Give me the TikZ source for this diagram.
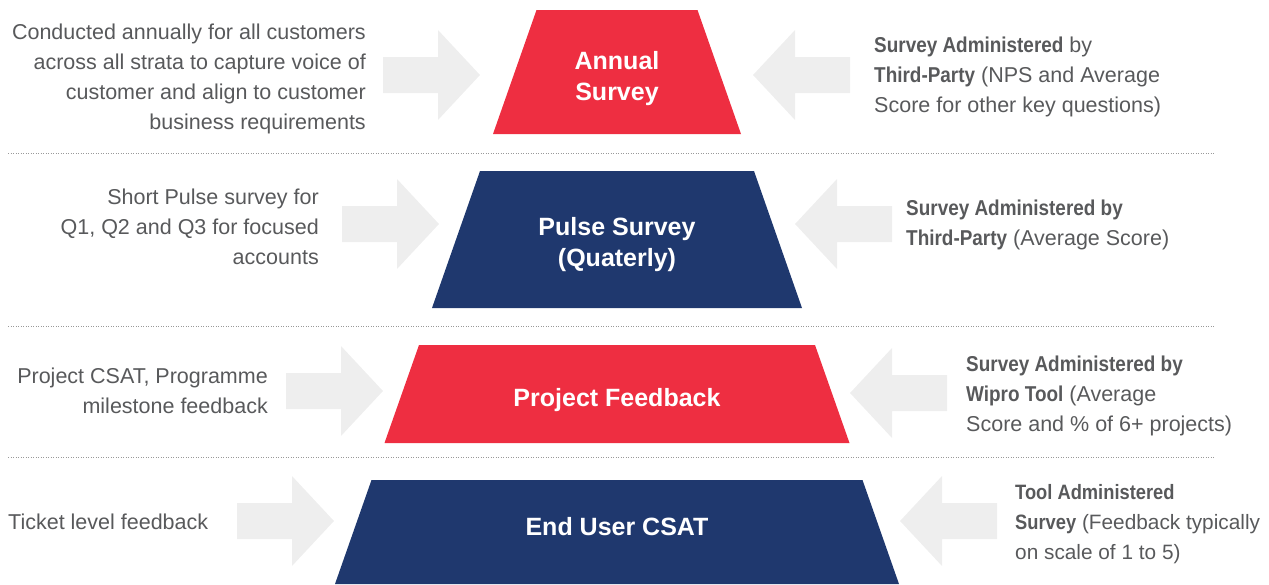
\documentclass[tikz,border=0pt]{standalone}
\usepackage{fontspec}
\setmainfont{Liberation Sans}
\newfontfamily\narrowsans[FakeStretch=0.88]{Liberation Sans}
\usepackage{xcolor}
\usepackage{tikz}
\usetikzlibrary{positioning}
\definecolor{wred}{HTML}{EE2E41}
\definecolor{wnavy}{HTML}{1F386E}
\definecolor{arrowgray}{HTML}{EEEEEE}
\definecolor{textgray}{HTML}{58595B}
\newcommand{\hl}[1]{{\narrowsans\bfseries #1}}
\newcommand{\rightarr}[2]{\fill[arrowgray] (#1-97,#2-18) -- (#1-42,#2-18) -- (#1-42,#2-45) -- (#1,#2) -- (#1-42,#2+45) -- (#1-42,#2+18) -- (#1-97,#2+18) -- cycle;}
\newcommand{\leftarr}[2]{\fill[arrowgray] (#1+97,#2-18) -- (#1+42,#2-18) -- (#1+42,#2-45) -- (#1,#2) -- (#1+42,#2+45) -- (#1+42,#2+18) -- (#1+97,#2+18) -- cycle;}

\begin{document}
\begin{tikzpicture}[x=1pt,y=-1pt,
  side/.style={text=textgray,font=\fontsize{21.5}{30}\selectfont,inner sep=0pt},
  title/.style={text=white,font=\bfseries\fontsize{25}{31}\selectfont,align=center,inner sep=0pt},
  sep/.style={gray!80,line width=1pt,dash pattern=on 1pt off 1.5pt}]
\useasboundingbox (0,0) rectangle (1269,584);
\begin{scope}
\fill[wred] (536.5,10) -- (697.5,10) -- (741,134) -- (493,134) -- cycle;
\node[title] (annual) at (617,79) {Annual\\Survey};
\rightarr{480}{75} \leftarr{753}{75}
\node[side,anchor=east,align=right] (annualL) at (366,79) {Conducted annually for all customers\\across all strata to capture voice of\\customer and align to customer\\business requirements};
\node[side,anchor=west,align=left] (annualR) at (874,77) {\hl{Survey Administered} by\\\hl{Third-Party} (NPS and Average\\Score for other key questions)};
\end{scope}
\draw[sep] (8,153) -- (1215,153);
\begin{scope}
\fill[wnavy] (480,171) -- (754,171) -- (802,308) -- (432,308) -- cycle;
\node[title] (pulse) at (617,245) {Pulse Survey\\(Quaterly)};
\rightarr{439}{224} \leftarr{795}{224}
\node[side,anchor=east,align=right] (pulseL) at (319,227) {Short Pulse survey for\\Q1, Q2 and Q3 for focused\\accounts};
\node[side,anchor=west,align=left] (pulseR) at (906,225) {\hl{Survey Administered by}\\\hl{Third-Party} (Average Score)};
\end{scope}
\draw[sep] (8,326) -- (1215,326);
\begin{scope}
\fill[wred] (419,345) -- (815,345) -- (849.5,443) -- (384.5,443) -- cycle;
\node[title] (project) at (617,400) {Project Feedback};
\rightarr{383}{391} \leftarr{850}{393}
\node[side,anchor=east,align=right] (projectL) at (268,391) {Project CSAT, Programme\\milestone feedback};
\node[side,anchor=west,align=left] (projectR) at (966,396) {\hl{Survey Administered by}\\\hl{Wipro Tool} (Average\\Score and \% of 6+ projects)};
\end{scope}
\draw[sep] (8,457) -- (1215,457);
\begin{scope}
\fill[wnavy] (371.5,480) -- (862.5,480) -- (899,584) -- (335,584) -- cycle;
\node[title] (enduser) at (617,527) {End User CSAT};
\rightarr{334}{521} \leftarr{900}{521}
\node[side,anchor=west] (enduserL) at (8,522) {Ticket level feedback};
\node[side,anchor=west,align=left,font=\fontsize{20.8}{30}\selectfont] (enduserR) at (1015,524) {\hl{Tool Administered}\\\hl{Survey} (Feedback typically\\on scale of 1 to 5)};
\end{scope}
\end{tikzpicture}
\end{document}
